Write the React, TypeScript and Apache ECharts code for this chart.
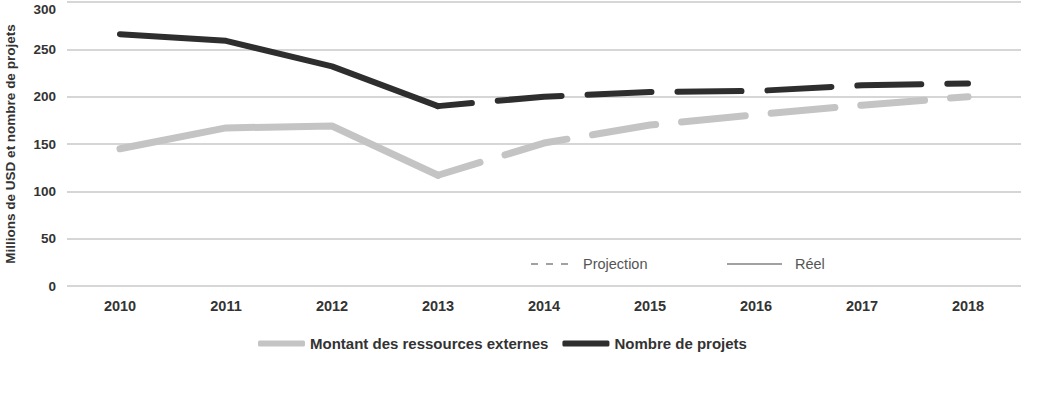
import React, { useEffect, useRef } from "react";
import * as echarts from "echarts";

// Years on the horizontal axis
const years = ["2010", "2011", "2012", "2013", "2014", "2015", "2016", "2017", "2018"];
// Actual values up to 2013, projections from 2013 on
const ressources = [145, 167, 169, 117, 151, 170, 181, 191, 200];
const projets = [266, 259, 232, 190, 200, 205, 206, 212, 214];
// Index of the last observed year (projection starts here)
const lastActual = 3;

const nameRessources = "Montant des ressources externes";
const nameProjets = "Nombre de projets";

const FONT = "'Liberation Sans', Arial, sans-serif";
const LIGHT = "#c4c4c4";
const DARK = "#2e2e2e";

function actualPart(values: number[]) {
  return values.map((v, i) => (i <= lastActual ? v : "-"));
}
function projectedPart(values: number[]) {
  return values.map((v, i) => (i >= lastActual ? v : "-"));
}

export default function App() {
  const ref = useRef<HTMLDivElement>(null);

  useEffect(() => {
    if (!ref.current) return;
    const chart = echarts.init(ref.current, undefined, { renderer: "svg" });

    const solid = (color: string, width: number) => ({
      color,
      width,
      type: "solid" as const,
      cap: "round" as const,
      join: "round" as const,
    });
    const dashed = (color: string, width: number, offset: number) => ({
      color,
      width,
      type: [64, 26],
      dashOffset: offset,
      cap: "round" as const,
      join: "round" as const,
    });

    chart.setOption({
      animation: false,
      backgroundColor: "#ffffff",
      textStyle: { fontFamily: FONT },
      grid: { left: 67, right: 26, top: 2, bottom: 124, outerBoundsMode: "none" },
      xAxis: {
        type: "category",
        data: years,
        boundaryGap: true,
        axisLine: { show: false },
        axisTick: { show: false },
        axisLabel: {
          margin: 12,
          color: "#333",
          fontWeight: "bold",
          fontSize: 14.5,
          fontFamily: FONT,
        },
      },
      yAxis: {
        type: "value",
        min: 0,
        max: 300,
        interval: 50,
        name: "Millions de USD et nombre de projets",
        nameLocation: "middle",
        nameGap: 50,
        nameTextStyle: {
          color: "#333",
          fontWeight: "bold",
          fontSize: 13.5,
          fontFamily: FONT,
        },
        axisLine: { show: false },
        axisTick: { show: false },
        axisLabel: {
          margin: 11,
          color: "#333",
          fontWeight: "bold",
          fontSize: 13.5,
          fontFamily: FONT,
          verticalAlignMaxLabel: "top",
        },
        splitLine: { lineStyle: { color: "#c8c8c8", width: 1.5 } },
      },
      legend: {
        data: [nameRessources, nameProjets],
        left: 253,
        top: 331,
        icon: "roundRect",
        itemWidth: 47,
        itemHeight: 6,
        itemGap: 14,
        textStyle: {
          color: "#333",
          fontWeight: "bold",
          fontSize: 15,
          fontFamily: FONT,
        },
      },
      series: [
        {
          name: nameRessources,
          type: "line",
          data: actualPart(ressources),
          symbol: "none",
          color: LIGHT,
          lineStyle: solid(LIGHT, 7),
          z: 2,
        },
        {
          name: nameRessources,
          type: "line",
          data: projectedPart(ressources),
          symbol: "none",
          color: LIGHT,
          lineStyle: dashed(LIGHT, 7, 20),
          z: 2,
        },
        {
          name: nameProjets,
          type: "line",
          data: actualPart(projets),
          symbol: "none",
          color: DARK,
          lineStyle: solid(DARK, 6),
          z: 3,
        },
        {
          name: nameProjets,
          type: "line",
          data: projectedPart(projets),
          symbol: "none",
          color: DARK,
          lineStyle: dashed(DARK, 6, 30),
          z: 3,
        },
      ],
      graphic: [
        {
          type: "line",
          shape: { x1: 531, y1: 264, x2: 570, y2: 264 },
          style: { stroke: "#444", lineWidth: 1.2, lineDash: [7, 8] },
        },
        {
          type: "text",
          x: 583,
          y: 264,
          style: {
            text: "Projection",
            fill: "#555",
            fontSize: 14.5,
            fontFamily: FONT,
            verticalAlign: "middle",
          },
        },
        {
          type: "line",
          shape: { x1: 727, y1: 264, x2: 782, y2: 264 },
          style: { stroke: "#444", lineWidth: 1.2 },
        },
        {
          type: "text",
          x: 795,
          y: 264,
          style: {
            text: "Réel",
            fill: "#555",
            fontSize: 14.5,
            fontFamily: FONT,
            verticalAlign: "middle",
          },
        },
      ],
    });

    return () => chart.dispose();
  }, []);

  return (
    <div
      ref={ref}
      style={{ position: "fixed", left: 0, top: 0, width: 1047, height: 410, background: "#fff" }}
    />
  );
}
